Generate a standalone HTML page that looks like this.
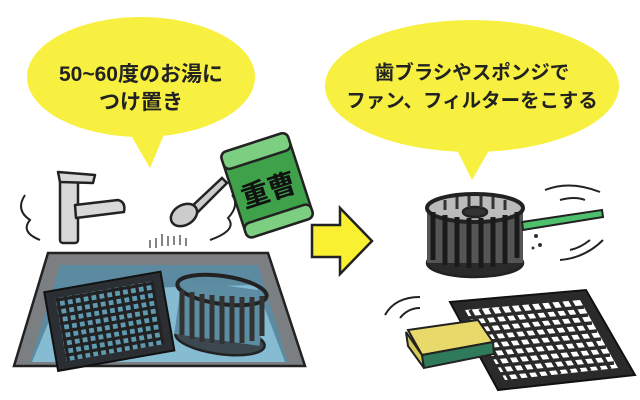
<!DOCTYPE html>
<html><head><meta charset="utf-8"><style>
html,body{margin:0;padding:0;background:#fff;}
svg{display:block}
text{font-family:"Liberation Sans","Noto Sans CJK JP",sans-serif;font-weight:bold;fill:#222;}
</style></head><body>
<svg width="640" height="400" viewBox="0 0 640 400" xmlns="http://www.w3.org/2000/svg">
<g fill="#f8f040">
<ellipse cx="141" cy="77" rx="114" ry="60"/>
<polygon points="125,125 168,125 150,168"/>
<ellipse cx="472" cy="86" rx="147" ry="66"/>
<polygon points="452,140 495,140 472,180"/>
</g>
<text x="141" y="81" font-size="21" text-anchor="middle">50~60度のお湯に</text>
<text x="141" y="109" font-size="21" text-anchor="middle">つけ置き</text>
<text x="472" y="79" font-size="19.5" text-anchor="middle">歯ブラシやスポンジで</text>
<text x="472" y="107" font-size="19.5" text-anchor="middle">ファン、フィルターをこする</text>

<g stroke="#222" stroke-width="2.5" fill="#d8d8d8" stroke-linejoin="round">
<rect x="60" y="175" width="18" height="68" rx="3"/>
<path d="M58 172 L95 175 L93 183 L60 182 Z"/>
<path d="M75 205 L118 200 Q126 202 124 212 L76 218 Z"/>
</g>
<g fill="none" stroke="#222" stroke-width="2">
<path d="M25 195 Q15 210 30 220 Q20 232 40 240"/>
<path d="M232 195 Q240 205 228 218 Q238 230 210 240"/>
</g>
<g stroke="#222" stroke-width="2.5" fill="#ccc">
<path d="M190 208 L222 178 L227 183 L197 213 Z"/>
<ellipse cx="184" cy="215" rx="14" ry="10" transform="rotate(-30 184 215)"/>
</g>
<g stroke="#333" stroke-width="1.2" fill="none">
<path d="M150 240 v8 M156 238 v10 M162 234 v12 M168 236 v10 M174 236 v9 M180 235 v10 M186 238 v8"/>
</g>
<g transform="rotate(-18 268 185)" stroke="#222" stroke-width="2.5">
<rect x="232" y="140" width="70" height="90" rx="6" fill="#3fa14a"/>
<rect x="232" y="140" width="70" height="18" rx="6" fill="#7ccf80"/>
<rect x="232" y="215" width="70" height="15" rx="6" fill="#7ccf80"/>
<text x="267" y="200" font-size="28" text-anchor="middle" stroke="none" style="fill:#111">重曹</text>
</g>
<polygon points="48,253 268,253 305,366 14,366" fill="#7b7f82" stroke="#222" stroke-width="2.5"/>
<polygon points="60,265 258,265 288,362 30,362" fill="#5c8aa0"/>
<polygon points="62,290 256,285 285,362 32,362" fill="#85bcd2"/>
<g transform="rotate(-10 105 320)">
<rect x="50" y="282" width="118" height="80" fill="#2b2f33" stroke="#111" stroke-width="2"/>
<rect x="60" y="290" width="98" height="64" fill="#5f9ab2"/>
<g stroke="#222" stroke-width="3.2">
<path d="M62 290v64M70 290v64M78 290v64M86 290v64M94 290v64M102 290v64M110 290v64M118 290v64M126 290v64M134 290v64M142 290v64M150 290v64M158 290v64"/>
<path d="M60 292h98M60 300h98M60 308h98M60 316h98M60 324h98M60 332h98M60 340h98M60 348h98"/>
</g>
</g>
<g stroke="#222" stroke-width="2.5" fill="#3c4850">
<ellipse cx="220" cy="340" rx="45" ry="14" transform="rotate(8 220 340)"/>
<rect x="178" y="285" width="86" height="55" fill="#5d8da2" stroke="none" transform="rotate(8 220 310)"/>
<ellipse cx="222" cy="290" rx="45" ry="14" fill="none" transform="rotate(8 222 290)" stroke-width="4"/>
<g stroke-width="5" stroke="#333">
<path d="M182 290v45M192 292v47M202 294v48M212 295v48M222 296v48M232 296v47M242 297v46M252 297v44M262 296v40"/>
</g>
</g>
<polygon points="312,225 340,225 340,208 372,241 340,274 340,257 312,257" fill="#f8f030" stroke="#222" stroke-width="2.5"/>
<g stroke="#222" stroke-width="2.5">
<ellipse cx="475" cy="263" rx="48" ry="14" fill="#2a2a2a"/>
<rect x="427" y="208" width="96" height="55" fill="#555" stroke="none"/>
<ellipse cx="475" cy="208" rx="48" ry="14" fill="#bbb" stroke-width="4"/>
<ellipse cx="475" cy="212" rx="12" ry="5" fill="#333"/>
<g stroke="#1a1a1a" stroke-width="5">
<path d="M433 212v48M445 215v50M457 217v50M469 218v50M481 218v50M493 217v50M505 215v49M517 212v46"/>
</g>
<g stroke="#333" stroke-width="3">
<path d="M445 200v10M457 197v12M469 196v12M481 196v12M493 197v12M505 200v10"/>
</g>
</g>
<polygon points="522,222 602,210 603,217 523,230" fill="#4cc06a" stroke="#222" stroke-width="2"/>
<g fill="#333"><circle cx="536" cy="236" r="2"/><circle cx="540" cy="245" r="2"/><circle cx="533" cy="248" r="1.5"/></g>
<g fill="none" stroke="#222" stroke-width="2">
<path d="M545 190 Q570 180 600 192"/><path d="M560 200 Q575 196 585 200"/>
<path d="M560 260 Q585 258 603 240"/><path d="M570 250 Q580 248 590 240"/>
<path d="M385 315 Q395 297 420 297"/><path d="M400 318 Q408 308 420 308"/>
</g>
<polygon points="450,302 586,290 635,375 498,390" fill="#2a2a2a" stroke="#111" stroke-width="2"/>
<polygon points="465,310 580,300 618,368 505,380" fill="#fff"/>
<g stroke="#2a2a2a" stroke-width="3.5">
<path d="M470 310 L510 380 M480 309 L520 379 M490 308 L530 378 M500 307 L540 377 M510 306 L550 376 M520 305 L560 374 M530 304 L570 373 M540 303 L580 372 M550 302 L590 371 M560 301 L600 370 M570 300 L610 369"/>
<path d="M468 318 L584 307 M472 326 L588 315 M477 334 L592 323 M481 342 L597 331 M486 350 L601 339 M490 358 L606 347 M495 366 L610 355 M500 374 L614 363"/>
</g>
<g stroke="#222" stroke-width="2">
<polygon points="408,330 478,320 493,342 422,355" fill="#e8da6a"/>
<polygon points="406,332 422,355 424,368 408,346" fill="#d7c957"/>
<polygon points="422,355 493,342 494,354 424,368" fill="#2f7a5a"/>
</g>
</svg>
</body></html>
